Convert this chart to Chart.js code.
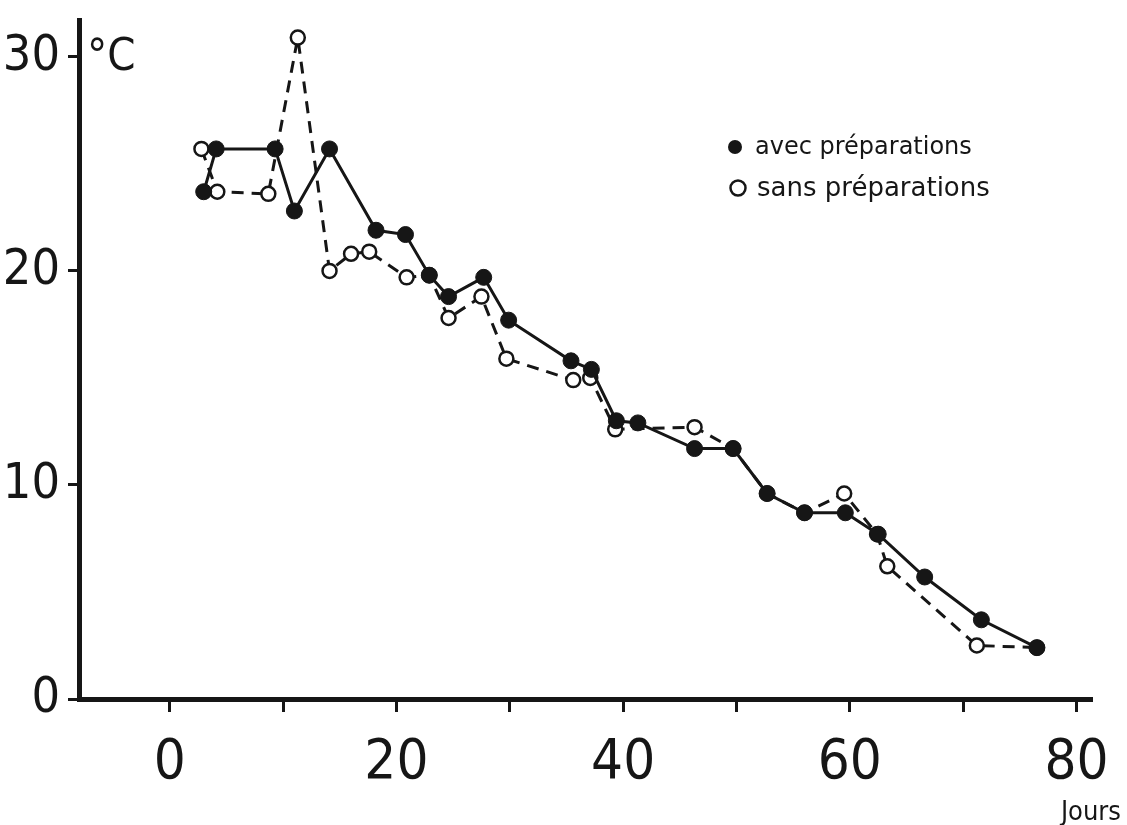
<!DOCTYPE html>
<html>
<head>
<meta charset="utf-8">
<script src="https://cdn.jsdelivr.net/npm/chart.js@4.4.1/dist/chart.umd.min.js"></script>
<style>
  body { margin: 0; background: #fff; }
  #box { width: 1127px; height: 825px; }
</style>
</head>
<body>
<div id="box"><canvas id="temp"></canvas></div>
<script>
// Température du tas (°C) en fonction des jours
var avecDays = [3.0, 4.1, 9.3, 11.0, 14.1, 18.2, 20.8, 22.9, 24.6, 27.7, 29.9, 35.4, 37.2, 39.4, 41.3, 46.3, 49.7, 52.7, 56.0, 59.6, 62.5, 66.6, 71.6, 76.5];
var avecTemp = [23.7, 25.7, 25.7, 22.8, 25.7, 21.9, 21.7, 19.8, 18.8, 19.7, 17.7, 15.8, 15.4, 13.0, 12.9, 11.7, 11.7, 9.6, 8.7, 8.7, 7.7, 5.7, 3.7, 2.4];

var sansDays = [2.8, 4.2, 8.7, 11.3, 14.1, 16.0, 17.6, 20.9, 22.9, 24.6, 27.5, 29.7, 35.6, 37.1, 39.3, 46.3, 49.7, 52.7, 56.0, 59.5, 62.4, 63.3, 71.2, 76.5];
var sansTemp = [25.7, 23.7, 23.6, 30.9, 20.0, 20.8, 20.9, 19.7, 19.8, 17.8, 18.8, 15.9, 14.9, 15.0, 12.6, 12.7, 11.7, 9.6, 8.7, 9.6, 7.7, 6.2, 2.5, 2.4];

var xTicks = [0, 10, 20, 30, 40, 50, 60, 70, 80];
var yTicks = [0, 10, 20, 30];
var seriesNames = ['avec préparations', 'sans préparations'];

var ink = '#161616';
var numFont = "'DejaVu Sans Condensed', 'DejaVu Sans', sans-serif";

function points(xs, ys) {
    return xs.map(function (x, i) { return { x: x, y: ys[i] }; });
}

// texts drawn on the canvas: unit, legend, x-axis name
var annotations = {
    id: 'annotations',
    afterDraw: function (chart) {
        var ctx = chart.ctx;
        var area = chart.chartArea;
        ctx.save();
        ctx.fillStyle = ink;
        ctx.strokeStyle = ink;

        ctx.font = "45px " + numFont;
        ctx.textBaseline = 'alphabetic';
        ctx.textAlign = 'left';
        ctx.fillText('°C', area.left + 8, 70);

        // legend
        var lx = area.left + 656;
        ctx.textBaseline = 'middle';
        ctx.beginPath();
        ctx.arc(lx, 147, 7, 0, Math.PI * 2);
        ctx.fill();
        ctx.font = "24px 'DejaVu Sans', sans-serif";
        ctx.fillText(seriesNames[0], lx + 20, 148);

        ctx.lineWidth = 2.5;
        ctx.beginPath();
        ctx.arc(lx + 3, 188, 7.5, 0, Math.PI * 2);
        ctx.stroke();
        ctx.font = "26px 'DejaVu Sans', sans-serif";
        ctx.fillText(seriesNames[1], lx + 22, 189);

        ctx.font = "27px 'DejaVu Sans Condensed', 'DejaVu Sans', sans-serif";
        ctx.textBaseline = 'alphabetic';
        ctx.textAlign = 'right';
        ctx.fillText('Jours', 1121, 820);
        ctx.restore();
    }
};

var ctx = document.getElementById('temp').getContext('2d');
var chart = new Chart(ctx, {
    type: 'line',
    data: {
        datasets: [{
            label: seriesNames[0],
            data: points(avecDays, avecTemp),
            borderColor: ink,
            borderWidth: 3,
            pointRadius: 8,
            pointBackgroundColor: ink,
            pointBorderColor: ink,
            pointBorderWidth: 1,
            tension: 0
        }, {
            label: seriesNames[1],
            data: points(sansDays, sansTemp),
            borderColor: ink,
            borderWidth: 3,
            borderDash: [12, 8],
            pointRadius: 7,
            pointBackgroundColor: '#fff',
            pointBorderColor: ink,
            pointBorderWidth: 2.5,
            tension: 0
        }]
    },
    options: {
        responsive: true,
        maintainAspectRatio: false,
        animation: false,
        layout: { padding: { left: 0, right: 25, top: 17, bottom: 0 } },
        plugins: {
            legend: { display: false },
            tooltip: { enabled: false }
        },
        scales: {
            x: {
                type: 'linear',
                min: -8,
                max: 81.3,
                afterBuildTicks: function (scale) {
                    scale.ticks = xTicks.map(function (v) { return { value: v }; });
                },
                afterFit: function (scale) { scale.height = 126; },
                grid: { drawOnChartArea: false, tickLength: 13, lineWidth: 3, color: ink },
                border: { display: true, width: 5, color: ink },
                ticks: {
                    color: ink,
                    padding: 18,
                    maxRotation: 0,
                    font: { family: numFont, size: 56 },
                    callback: function (v) { return v % 20 === 0 ? v : ''; }
                }
            },
            y: {
                min: 0,
                max: 31.7,
                afterBuildTicks: function (scale) {
                    scale.ticks = yTicks.map(function (v) { return { value: v }; });
                },
                afterFit: function (scale) { scale.width = 79; },
                grid: { drawOnChartArea: false, tickLength: 11, lineWidth: 3, color: ink },
                border: { display: true, width: 5, color: ink },
                ticks: {
                    color: ink,
                    padding: 8,
                    font: { family: numFont, size: 50, lineHeight: 0.5 }
                }
            }
        }
    },
    plugins: [annotations]
});
</script>
</body>
</html>
